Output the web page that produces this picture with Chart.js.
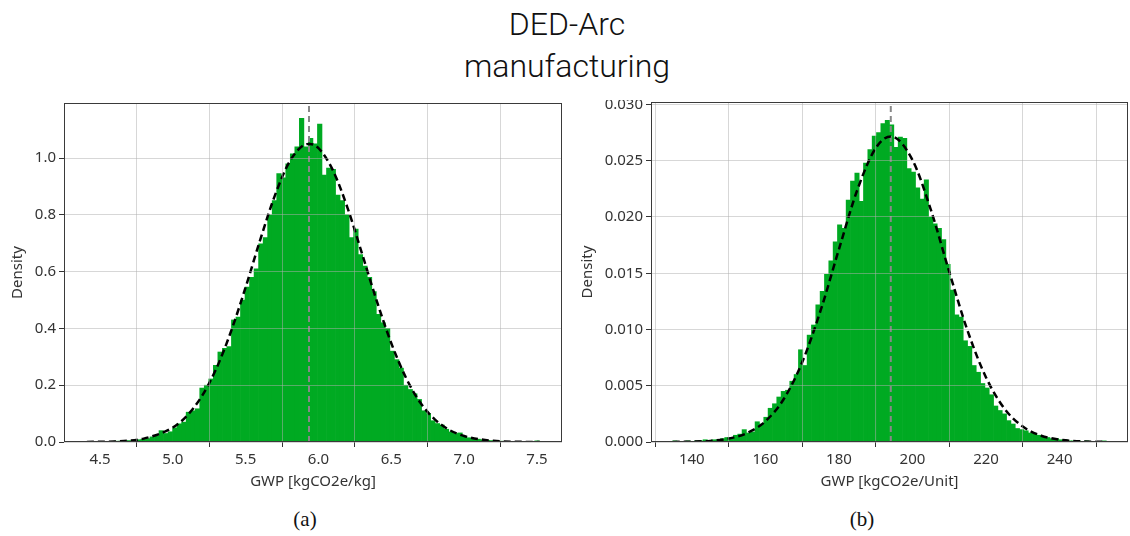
<!DOCTYPE html>
<html>
<head>
<meta charset="utf-8">
<script src="https://cdn.jsdelivr.net/npm/chart.js@4.4.1/dist/chart.umd.min.js"></script>
<style>
  body { margin: 0; background: #fff; width: 1130px; height: 536px; position: relative; overflow: hidden; }
  .title { position: absolute; left: 0; width: 1134px; text-align: center; font-family: Roboto, 'Liberation Sans', sans-serif; font-weight: 300; font-size: 32px; color: #111; line-height: 38px; }
  .panel { position: absolute; top: 100px; height: 400px; }
  .caption { position: absolute; top: 507px; font-family: 'Liberation Serif', 'Times New Roman', serif; font-size: 21px; color: #111; transform: translateX(-50%); }
</style>
</head>
<body>
<div class="title" style="top:5px">DED-Arc</div>
<div class="title" style="top:47px">manufacturing</div>
<div class="panel" style="left:0; width:566px"><canvas id="chartA"></canvas></div>
<div class="panel" style="left:570px; width:560px"><canvas id="chartB"></canvas></div>
<div class="caption" style="left:305px">(a)</div>
<div class="caption" style="left:862px">(b)</div>
<script>
// (a) GWP per kg: 100 histogram bins
const binStartA = 4.408;
const binWidthA = 0.03108;
const densityA = [
  0.001, 0, 0.002, 0.001, 0.002, 0.002, 0.003, 0.003, 0.004, 0.005,
  0.006, 0.008, 0.010, 0.012, 0.018, 0.022, 0.040, 0.030, 0.036, 0.050,
  0.064, 0.070, 0.105, 0.110, 0.117, 0.190, 0.200, 0.222, 0.270, 0.317,
  0.330, 0.336, 0.430, 0.440, 0.500, 0.546, 0.580, 0.610, 0.698, 0.720,
  0.800, 0.850, 0.945, 0.930, 0.980, 1.015, 1.040, 1.140, 1.040, 1.070,
  1.050, 1.120, 0.940, 0.965, 0.960, 0.870, 0.850, 0.800, 0.720, 0.750,
  0.660, 0.620, 0.580, 0.530, 0.450, 0.420, 0.400, 0.320, 0.290, 0.260,
  0.200, 0.185, 0.170, 0.150, 0.110, 0.100, 0.075, 0.065, 0.060, 0.045,
  0.035, 0.030, 0.032, 0.020, 0.015, 0.012, 0.010, 0.008, 0.006, 0.005,
  0.004, 0.003, 0.002, 0.002, 0.001, 0.001, 0, 0.001, 0, 0.004
];
const fitXA = [4.41, 4.6, 4.8, 5.0, 5.1, 5.2, 5.3, 5.4, 5.5, 5.6, 5.7, 5.8, 5.9, 5.94,
  6.0, 6.1, 6.2, 6.3, 6.4, 6.5, 6.6, 6.7, 6.8, 6.9, 7.0, 7.2, 7.4, 7.52];
const fitYA = [0.0003, 0.002, 0.012, 0.051, 0.094, 0.162, 0.26, 0.39, 0.545, 0.712, 0.867, 0.986, 1.046, 1.05,
  1.035, 0.956, 0.824, 0.662, 0.497, 0.348, 0.227, 0.138, 0.079, 0.042, 0.021, 0.004, 0.0006, 0.0002];
const meanA = 5.935;
const xTicksA = [4.5, 5.0, 5.5, 6.0, 6.5, 7.0, 7.5];
const yTicksA = [0, 0.2, 0.4, 0.6, 0.8, 1.0];

// (b) GWP per unit: 100 histogram bins
const binStartB = 134.8;
const binWidthB = 1.179;
const densityB = [
  0.0001, 0, 0, 0.0001, 0, 0.0001, 0.0001, 0.0002, 0.0001, 0.0002,
  0.0002, 0.0003, 0.0004, 0.0004, 0.0006, 0.0007, 0.0011, 0.0008, 0.0009, 0.0018,
  0.0016, 0.0022, 0.0030, 0.0034, 0.0040, 0.0045, 0.0046, 0.0054, 0.0060, 0.0082,
  0.0068, 0.0095, 0.0104, 0.0122, 0.0134, 0.0149, 0.0161, 0.0178, 0.0193, 0.0190,
  0.0215, 0.0232, 0.0239, 0.0214, 0.0248, 0.0260, 0.0272, 0.0275, 0.0283, 0.0286,
  0.0282, 0.0262, 0.0271, 0.0270, 0.0243, 0.0240, 0.0226, 0.0216, 0.0233, 0.0200,
  0.0194, 0.0190, 0.0180, 0.0158, 0.0135, 0.0113, 0.0111, 0.0090, 0.0085, 0.0068,
  0.0062, 0.0052, 0.0048, 0.0042, 0.0032, 0.0028, 0.0025, 0.0019, 0.0016, 0.0012,
  0.0011, 0.0010, 0.0008, 0.0007, 0.0006, 0.0005, 0.0004, 0.0003, 0.0003, 0.0002,
  0.0002, 0.0001, 0.0001, 0.0001, 0, 0.0001, 0, 0, 0, 0.0001
];
const fitXB = [134.8, 140, 145, 150, 155, 160, 165, 170, 175, 180, 185, 190, 194.1,
  200, 205, 210, 215, 220, 225, 230, 235, 240, 245, 250, 252.7];
const fitYB = [0.00001, 0.00003, 0.0001, 0.0003, 0.00079, 0.00184, 0.00382, 0.00708, 0.01167, 0.01713, 0.02241, 0.02612, 0.02716,
  0.02506, 0.02063, 0.01512, 0.00987, 0.00574, 0.00297, 0.00137, 0.00056, 0.00021, 0.00007, 0.00002, 0.00001];
const meanB = 194.1;
const xTicksB = [140, 160, 180, 200, 220, 240];
const yTicksB = [0, 0.005, 0.010, 0.015, 0.020, 0.025, 0.030];

const FONT = "'Noto Sans', 'DejaVu Sans', sans-serif";
const GREEN = '#00aa22';

// box around the plot area, like a matplotlib axes frame
const frame = {
    id: 'frame',
    afterDraw(chart) {
        const { ctx, chartArea: a } = chart;
        ctx.save();
        ctx.strokeStyle = '#3a3a3a';
        ctx.lineWidth = 1;
        ctx.strokeRect(a.left + 0.5, a.top + 0.5, a.width - 1, a.height - 1);
        ctx.restore();
    }
};

function makeChart(id, cfg) {
    const bars = cfg.density.map((y, i) => ({ x: cfg.binStart + cfg.binWidth * (i + 0.5), y }));
    const fit = cfg.fitX.map((x, i) => ({ x, y: cfg.fitY[i] }));
    const meanLine = [{ x: cfg.mean, y: 0 }, { x: cfg.mean, y: cfg.yMax }];

    return new Chart(document.getElementById(id), {
        type: 'bar',
        data: {
            datasets: [
                {
                    type: 'line', data: fit, order: 1,
                    borderColor: '#000', borderWidth: 2.5, borderDash: [7, 4],
                    pointRadius: 0, cubicInterpolationMode: 'monotone', fill: false
                },
                {
                    type: 'line', data: meanLine, order: 2,
                    borderColor: '#888', borderWidth: 2, borderDash: [6, 4],
                    pointRadius: 0, fill: false
                },
                {
                    type: 'bar', data: bars, order: 3,
                    backgroundColor: GREEN, borderWidth: 0,
                    barPercentage: 1, categoryPercentage: 1, grouped: false
                }
            ]
        },
        options: {
            responsive: true,
            maintainAspectRatio: false,
            animation: false,
            layout: { padding: { top: cfg.padTop, right: cfg.padRight, left: 0, bottom: 0 } },
            plugins: { legend: { display: false }, tooltip: { enabled: false } },
            scales: {
                x: {
                    type: 'linear', offset: false,
                    min: cfg.xMin, max: cfg.xMax,
                    afterBuildTicks: s => { s.ticks = cfg.xTicks.map(v => ({ value: v })); },
                    afterFit: s => { s.height = 58; s.paddingLeft = 0; s.paddingRight = 0; },
                    grid: { color: 'rgba(175,175,175,0.5)', z: 1, tickLength: 5, tickColor: '#333' },
                    border: { display: false },
                    ticks: {
                        padding: 4, color: '#333', font: { family: FONT, size: 15 },
                        maxRotation: 0, callback: cfg.xFormat
                    },
                    title: {
                        display: true, text: cfg.xTitle, color: '#333',
                        font: { family: FONT, size: 15 }, padding: { top: 0, bottom: 9 }
                    }
                },
                y: {
                    min: 0, max: cfg.yMax,
                    afterBuildTicks: s => { s.ticks = cfg.yTicks.map(v => ({ value: v })); },
                    afterFit: s => { s.width = cfg.yWidth; s.paddingTop = 0; s.paddingBottom = 0; },
                    grid: { color: 'rgba(175,175,175,0.5)', z: 1, tickLength: 5, tickColor: '#333' },
                    border: { display: false },
                    ticks: {
                        padding: 3, color: '#333', font: { family: FONT, size: 15 },
                        callback: cfg.yFormat
                    },
                    title: {
                        display: true, text: 'Density', color: '#333',
                        font: { family: FONT, size: 15 }, padding: { top: 9, bottom: 0 }
                    }
                }
            }
        },
        plugins: [frame]
    });
}

makeChart('chartA', {
    density: densityA, binStart: binStartA, binWidth: binWidthA,
    fitX: fitXA, fitY: fitYA, mean: meanA,
    xTicks: xTicksA, yTicks: yTicksA,
    xMin: 4.253, xMax: 7.672, yMax: 1.194,
    xTitle: 'GWP [kgCO2e/kg]',
    xFormat: v => v.toFixed(1), yFormat: v => v.toFixed(1),
    padTop: 3, padRight: 4, yWidth: 64
});

makeChart('chartB', {
    density: densityB, binStart: binStartB, binWidth: binWidthB,
    fitX: fitXB, fitY: fitYB, mean: meanB,
    xTicks: xTicksB, yTicks: yTicksB,
    xMin: 128.9, xMax: 258.6, yMax: 0.03022,
    xTitle: 'GWP [kgCO2e/Unit]',
    xFormat: v => v.toFixed(0), yFormat: v => v.toFixed(3),
    padTop: 2, padRight: 2, yWidth: 81
});
</script>
</body>
</html>
